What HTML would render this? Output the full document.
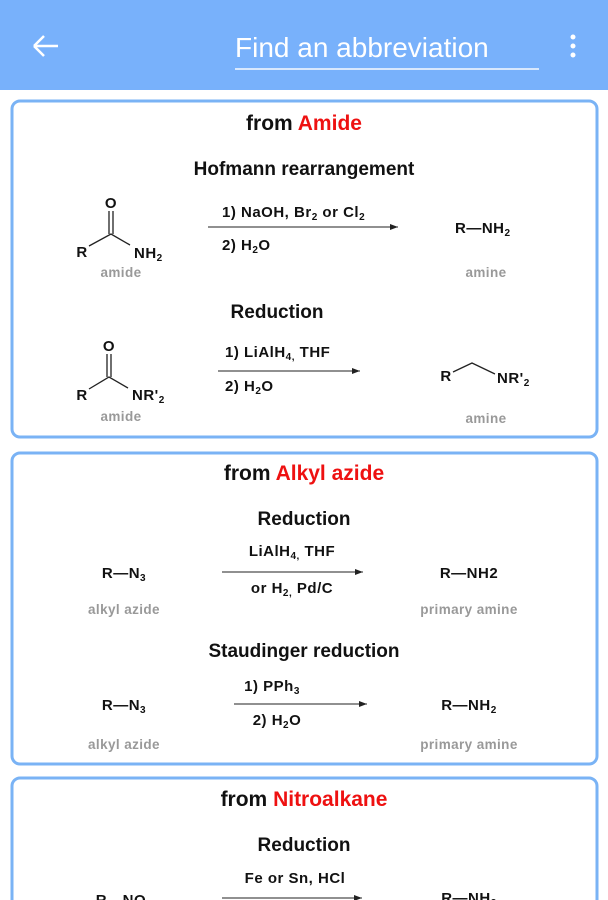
<!DOCTYPE html>
<html><head><meta charset="utf-8"><style>
html,body{margin:0;padding:0;width:608px;height:900px;overflow:hidden;background:#fff;font-family:"Liberation Sans",Arial,sans-serif}
svg text{font-family:"Liberation Sans",Arial,sans-serif}
</style></head><body>
<svg width="608" height="900" viewBox="0 0 608 900" xmlns="http://www.w3.org/2000/svg">
<defs><marker id="ah" markerWidth="8" markerHeight="6" refX="8" refY="3" orient="auto" markerUnits="userSpaceOnUse"><path d="M0,0 L8,3 L0,6 Z" fill="#222"/></marker></defs>
<rect x="0" y="0" width="608" height="90" fill="#78b1fb"/>
<path d="M34,46 H58 M34,46 L44,36 M34,46 L44,56" stroke="#fff" stroke-width="2.5" fill="none"/>
<text x="235" y="57" font-size="28" fill="#fff">Find an abbreviation</text>
<rect x="235" y="68" width="304" height="2" fill="#d8e8fd"/>
<circle cx="573" cy="37" r="2.5" fill="#fff"/><circle cx="573" cy="46" r="2.5" fill="#fff"/><circle cx="573" cy="55" r="2.5" fill="#fff"/>

<rect x="12" y="101" width="585" height="336" rx="8" fill="#fff" stroke="#7ab3f5" stroke-width="3"/>
<rect x="12" y="453" width="585" height="311" rx="8" fill="#fff" stroke="#7ab3f5" stroke-width="3"/>
<rect x="12" y="778" width="585" height="140" rx="8" fill="#fff" stroke="#7ab3f5" stroke-width="3"/>

<g fill="#111" font-weight="bold" text-anchor="middle">
<text x="304" y="130" font-size="21">from <tspan fill="#ee1111">Amide</tspan></text>
<text x="304" y="175" font-size="19">Hofmann rearrangement</text>
<text x="277" y="318" font-size="19">Reduction</text>
<text x="304" y="480" font-size="21">from <tspan fill="#ee1111">Alkyl azide</tspan></text>
<text x="304" y="525" font-size="19">Reduction</text>
<text x="304" y="657" font-size="19">Staudinger reduction</text>
<text x="304" y="806" font-size="21">from <tspan fill="#ee1111">Nitroalkane</tspan></text>
<text x="304" y="851" font-size="19">Reduction</text>
</g>

<g fill="#111" font-size="15" font-weight="bold" letter-spacing="0.5">
<text x="111" y="208" text-anchor="middle">O</text>
<path d="M109,211 V234 M113,211 V234 M89,246 L111,234 L130,245" stroke="#222" stroke-width="1.3" fill="none"/>
<text x="82" y="257" text-anchor="middle">R</text>
<text x="134" y="258">NH<tspan font-size="10" dy="3">2</tspan></text>
<text x="222" y="217">1) NaOH, Br<tspan font-size="10" dy="3">2</tspan><tspan dy="-3"> or Cl</tspan><tspan font-size="10" dy="3">2</tspan></text>
<line x1="208" y1="227" x2="398" y2="227" stroke="#222" stroke-width="1" marker-end="url(#ah)"/>
<text x="222" y="250">2) H<tspan font-size="10" dy="3">2</tspan><tspan dy="-3">O</tspan></text>
<text x="455" y="233">R—NH<tspan font-size="10" dy="3">2</tspan></text>
<text x="109" y="351" text-anchor="middle">O</text>
<path d="M107,354 V377 M111,354 V377 M89,389 L109,377 L128,388" stroke="#222" stroke-width="1.3" fill="none"/>
<text x="82" y="400" text-anchor="middle">R</text>
<text x="132" y="400">NR'<tspan font-size="10" dy="3">2</tspan></text>
<text x="225" y="357">1) LiAlH<tspan font-size="10" dy="3">4,</tspan><tspan dy="-3"> THF</tspan></text>
<line x1="218" y1="371" x2="360" y2="371" stroke="#222" stroke-width="1" marker-end="url(#ah)"/>
<text x="225" y="391">2) H<tspan font-size="10" dy="3">2</tspan><tspan dy="-3">O</tspan></text>
<text x="446" y="381" text-anchor="middle">R</text>
<path d="M453,372 L472,363 L495,374" stroke="#222" stroke-width="1.3" fill="none"/>
<text x="497" y="383">NR'<tspan font-size="10" dy="3">2</tspan></text>
<text x="124" y="578" text-anchor="middle">R—N<tspan font-size="10" dy="3">3</tspan></text>
<text x="292" y="556" text-anchor="middle">LiAlH<tspan font-size="10" dy="3">4,</tspan><tspan dy="-3"> THF</tspan></text>
<line x1="222" y1="572" x2="363" y2="572" stroke="#222" stroke-width="1" marker-end="url(#ah)"/>
<text x="292" y="593" text-anchor="middle">or H<tspan font-size="10" dy="3">2,</tspan><tspan dy="-3"> Pd/C</tspan></text>
<text x="469" y="578" text-anchor="middle">R—NH2</text>
<text x="124" y="710" text-anchor="middle">R—N<tspan font-size="10" dy="3">3</tspan></text>
<text x="272" y="691" text-anchor="middle">1) PPh<tspan font-size="10" dy="3">3</tspan></text>
<line x1="234" y1="704" x2="367" y2="704" stroke="#222" stroke-width="1" marker-end="url(#ah)"/>
<text x="277" y="725" text-anchor="middle">2) H<tspan font-size="10" dy="3">2</tspan><tspan dy="-3">O</tspan></text>
<text x="469" y="710" text-anchor="middle">R—NH<tspan font-size="10" dy="3">2</tspan></text>
<text x="295" y="883" text-anchor="middle">Fe or Sn, HCl</text>
<line x1="222" y1="898" x2="362" y2="898" stroke="#222" stroke-width="1" marker-end="url(#ah)"/>
<text x="124" y="905" text-anchor="middle">R—NO<tspan font-size="10" dy="3">2</tspan></text>
<text x="469" y="903" text-anchor="middle">R—NH<tspan font-size="10" dy="3">2</tspan></text>
</g>

<g fill="#999" font-size="13.5" font-weight="bold" text-anchor="middle" letter-spacing="0.4">
<text x="121" y="277">amide</text>
<text x="486" y="277">amine</text>
<text x="121" y="421">amide</text>
<text x="486" y="423">amine</text>
<text x="124" y="614">alkyl azide</text>
<text x="469" y="614">primary amine</text>
<text x="124" y="749">alkyl azide</text>
<text x="469" y="749">primary amine</text>
</g>
</svg>
</body></html>
